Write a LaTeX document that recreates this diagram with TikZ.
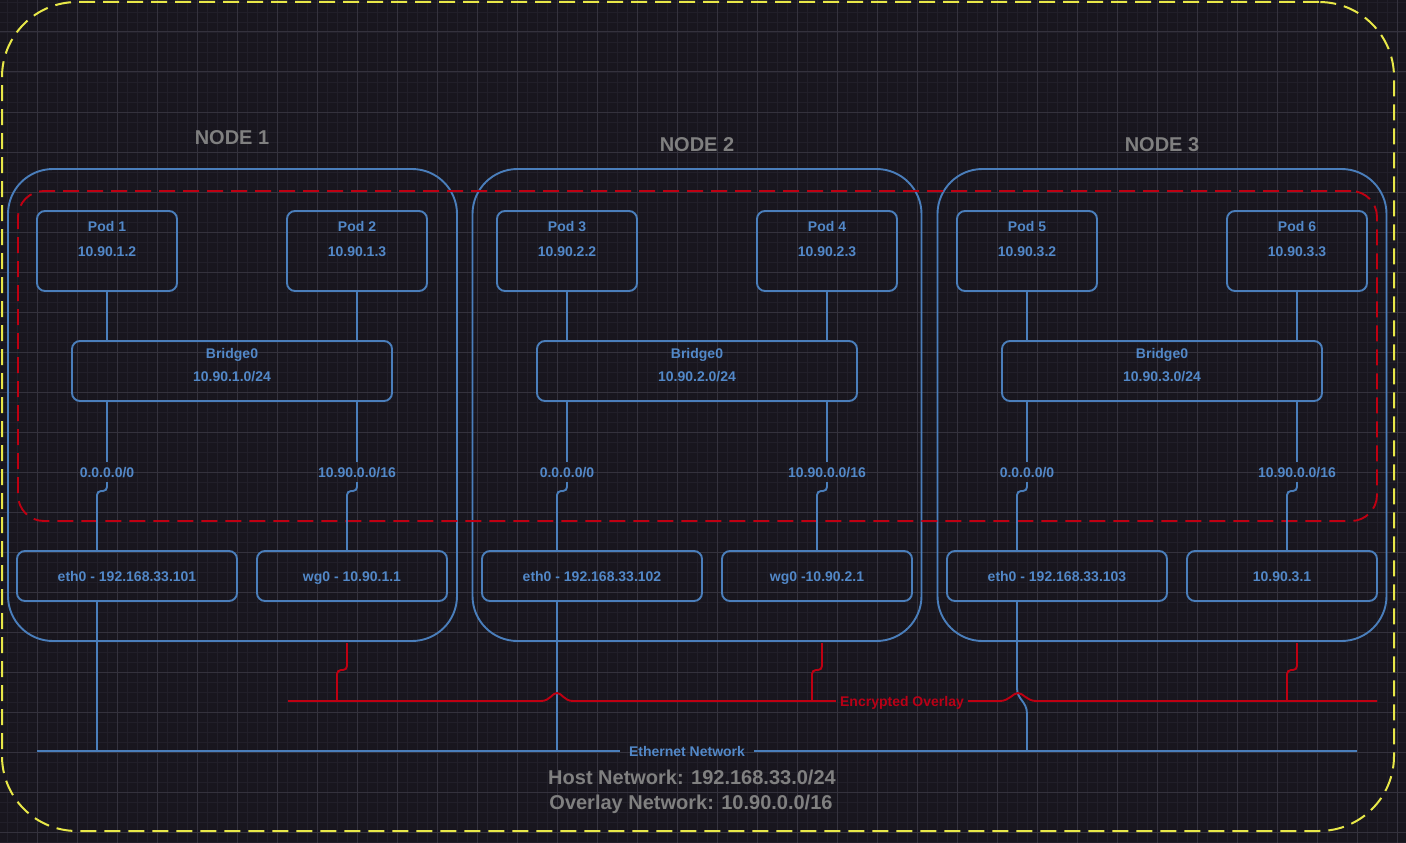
\documentclass[tikz,border=0pt]{standalone}
\usepackage{fontspec}
\setmainfont{Liberation Sans}
\usetikzlibrary{calc}
\definecolor{bgc}{RGB}{24,22,30}
\definecolor{gmin}{RGB}{33,31,41}
\definecolor{gmaj}{RGB}{52,50,61}
\definecolor{blc}{RGB}{74,126,187}
\definecolor{blt}{RGB}{82,136,200}
\definecolor{rdc}{RGB}{190,0,18}
\definecolor{rdt}{RGB}{185,0,22}
\definecolor{gyt}{RGB}{128,128,128}
\definecolor{yel}{RGB}{232,232,72}
\newcommand\mkpod[4]{%
  \node[podbox] (#1) at (#2,251) {};
  \node[txt] at (#2,226) {#3};
  \node[txt] at (#2,251) {#4};
}
\newcommand\mkbridge[3]{%
  \node[brbox] (#1) at (#2,371) {};
  \node[txt] at (#2,353) {Bridge0};
  \node[txt] at (#2,376) {#3};
}
\begin{document}
\begin{tikzpicture}[x=1pt,y=-1pt,
  wire/.style={draw=blc, line width=1.9pt},
  rwire/.style={draw=rdc, line width=1.9pt},
  txt/.style={text=blt, font=\bfseries\fontsize{14}{16}\selectfont, inner sep=0pt, text height=10pt, text depth=0pt},
  podbox/.style={draw=blc, line width=1.9pt, rounded corners=8pt, minimum width=140pt, minimum height=80pt, inner sep=0pt},
  brbox/.style={draw=blc, line width=1.9pt, rounded corners=8pt, minimum width=320pt, minimum height=60pt, inner sep=0pt},
  ifbox/.style={draw=blc, line width=1.9pt, rounded corners=8pt, minimum height=50pt, inner sep=0pt, text=blt, font=\bfseries\fontsize{14}{16}\selectfont, text height=10pt, text depth=0pt},
  hostbox/.style={draw=blc, line width=1.9pt, rounded corners=45pt, minimum width=449pt, minimum height=472pt, inner sep=0pt},
  rlab/.style={text=blt, font=\bfseries\fontsize{14}{16}\selectfont, inner sep=0pt, text height=10pt, text depth=0pt, minimum height=20pt},
  title/.style={text=gyt, font=\bfseries\fontsize{20}{24}\selectfont, inner sep=0pt, text height=14.3pt, text depth=0pt},
]
% background
\fill[bgc] (0,0) rectangle (1406,843);
\useasboundingbox (0,0) rectangle (1406,843);
\foreach \x in {7,17,...,1406} \draw[gmin, line width=0.8pt] (\x,0) -- (\x,843);
\foreach \y in {2,12,...,843} \draw[gmin, line width=0.8pt] (0,\y) -- (1406,\y);
\foreach \x in {37,77,...,1406} \draw[gmaj, line width=1pt] (\x,0) -- (\x,843);
\foreach \y in {32,72,...,843} \draw[gmaj, line width=1pt] (0,\y) -- (1406,\y);

% outer frame
\node[draw=yel, line width=2pt, dash pattern=on 16pt off 8pt, rounded corners=75pt,
  minimum width=1392pt, minimum height=829pt, inner sep=0pt] (frame) at (698,416.5) {};

% hosts
\node[hostbox] (n1) at (232.5,405) {};
\node[hostbox] (n2) at (697,405) {};
\node[hostbox] (n3) at (1162,405) {};
\node[title] (t1) at (232,137) {NODE 1};
\node[title] (t2) at (697,144) {NODE 2};
\node[title] (t3) at (1162,144) {NODE 3};

% overlay zone
\node[draw=rdc, line width=1.9pt, dash pattern=on 16pt off 8pt, rounded corners=26pt,
  minimum width=1359pt, minimum height=330pt, inner sep=0pt] (zone) at (697.5,356) {};

% pods
\mkpod{p1}{107}{Pod 1}{10.90.1.2}
\mkpod{p2}{357}{Pod 2}{10.90.1.3}
\mkpod{p3}{567}{Pod 3}{10.90.2.2}
\mkpod{p4}{827}{Pod 4}{10.90.2.3}
\mkpod{p5}{1027}{Pod 5}{10.90.3.2}
\mkpod{p6}{1297}{Pod 6}{10.90.3.3}

% bridges
\mkbridge{b1}{232}{10.90.1.0/24}
\mkbridge{b2}{697}{10.90.2.0/24}
\mkbridge{b3}{1162}{10.90.3.0/24}

% interfaces
\node[ifbox, minimum width=220pt] (e1) at (127,576) {eth0 - 192.168.33.101};
\node[ifbox, minimum width=190pt] (w1) at (352,576) {wg0 - 10.90.1.1};
\node[ifbox, minimum width=220pt] (e2) at (592,576) {eth0 - 192.168.33.102};
\node[ifbox, minimum width=190pt] (w2) at (817,576) {wg0 -10.90.2.1};
\node[ifbox, minimum width=220pt] (e3) at (1057,576) {eth0 - 192.168.33.103};
\node[ifbox, minimum width=190pt] (w3) at (1282,576) {10.90.3.1};

% route labels
\node[rlab] (r1) at (107,472) {0.0.0.0/0};
\node[rlab] (s1) at (357,472) {10.90.0.0/16};
\node[rlab] (r2) at (567,472) {0.0.0.0/0};
\node[rlab] (s2) at (827,472) {10.90.0.0/16};
\node[rlab] (r3) at (1027,472) {0.0.0.0/0};
\node[rlab] (s3) at (1297,472) {10.90.0.0/16};

% pod -> bridge
\foreach \p/\b in {p1/b1,p2/b1,p3/b2,p4/b2,p5/b3,p6/b3}
  \draw[wire] (\p.south) -- (\b.north -| \p.south);
% bridge -> route label
\foreach \r/\b in {r1/b1,s1/b1,r2/b2,s2/b2,r3/b3,s3/b3}
  \draw[wire] (\b.south -| \r.north) -- (\r.north);

% route label -> interface (with jog)
\coordinate (j1) at (97,491);   \coordinate (k1) at (347,491);
\coordinate (j2) at (557,491);  \coordinate (k2) at (817,491);
\coordinate (j3) at (1017,491); \coordinate (k3) at (1287,491);
\draw[wire, rounded corners=4pt] (r1.south) |- (j1) -- (j1 |- e1.north);
\draw[wire, rounded corners=4pt] (s1.south) |- (k1) -- (k1 |- w1.north);
\draw[wire, rounded corners=4pt] (r2.south) |- (j2) -- (j2 |- e2.north);
\draw[wire, rounded corners=4pt] (s2.south) |- (k2) -- (k2 |- w2.north);
\draw[wire, rounded corners=4pt] (r3.south) |- (j3) -- (j3 |- e3.north);
\draw[wire, rounded corners=4pt] (s3.south) |- (k3) -- (k3 |- w3.north);

% ethernet network
\coordinate (eL) at (37,751);
\coordinate (eR) at (1357,751);
\node[txt, inner xsep=9pt, inner ysep=3pt] (enet) at (687,751) {Ethernet Network};
\draw[wire] (eL) -- (enet.west);
\draw[wire] (enet.east) -- (eR);
\draw[wire] (e1.south -| j1) -- (j1 |- eL);
\draw[wire] (e2.south -| j2) -- (j2 |- eL);
\draw[wire] (e3.south -| j3) -- (1017,688) .. controls (1017,700) and (1027,701) .. (1027,714) -- (1027,751);

% encrypted overlay
\coordinate (oL) at (288,701);
\coordinate (oR) at (1377,701);
\node[text=rdt, font=\bfseries\fontsize{14}{16}\selectfont, text height=10pt, text depth=0pt, inner xsep=4pt, inner ysep=3pt] (ovl) at (902,701) {Encrypted Overlay};
\draw[rwire] (oL) -- (541,701) .. controls (550,701) and (552,693) .. (557,693)
  .. controls (562,693) and (564,701) .. (573,701) -- (ovl.west);
\draw[rwire] (ovl.east) -- (1000,701) .. controls (1009,701) and (1013,693) .. (1018,693)
  .. controls (1023,693) and (1027,701) .. (1036,701) -- (oR);
\coordinate (y1) at (347,643); \coordinate (y2) at (822,643); \coordinate (y3) at (1297,643);
\coordinate (x1) at (337,670); \coordinate (x2) at (812,670); \coordinate (x3) at (1287,670);
\draw[rwire, rounded corners=4pt] (y1) |- (x1) -- (x1 |- oL);
\draw[rwire, rounded corners=4pt] (y2) |- (x2) -- (x2 |- oL);
\draw[rwire, rounded corners=4pt] (y3) |- (x3) -- (x3 |- oL);

% captions
\node[title] (c1) at (692,777) {Host Network: 192.168.33.0/24};
\node[title] (c2) at (691,802) {Overlay Network: 10.90.0.0/16};
\end{tikzpicture}
\end{document}
